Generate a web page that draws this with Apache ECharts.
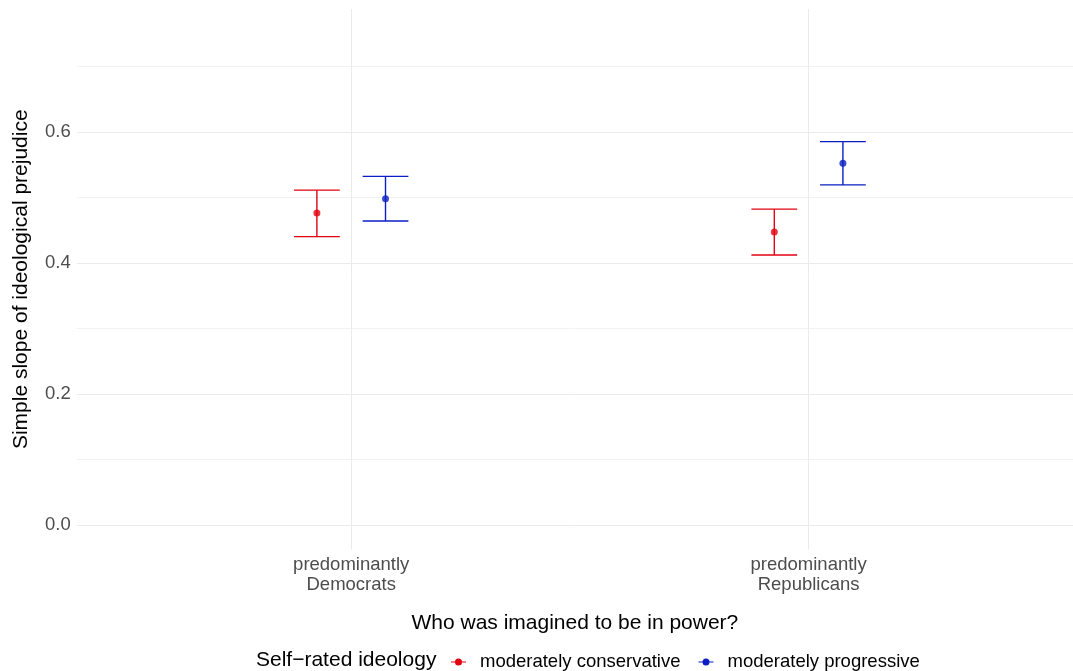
<!DOCTYPE html>
<html>
<head>
<meta charset="utf-8">
<script src="https://cdn.jsdelivr.net/npm/echarts@6/dist/echarts.min.js"></script>
<style>
  html, body { margin: 0; padding: 0; background: #ffffff; }
  #chart { width: 1073px; height: 671px; }
</style>
</head>
<body>
<div id="chart"></div>
<script>
// Simple slopes of ideological prejudice with 95% intervals
const categories = ['predominantly\nDemocrats', 'predominantly\nRepublicans'];
const groups = ['moderately conservative', 'moderately progressive'];

const conservativeEstimate = [0.476, 0.447];
const conservativeLower    = [0.440, 0.412];
const conservativeUpper    = [0.511, 0.482];

const progressiveEstimate  = [0.498, 0.552];
const progressiveLower     = [0.464, 0.519];
const progressiveUpper     = [0.532, 0.585];

const yTickLabels = [0, 0.2, 0.4, 0.6];
const yGridValues = [0, 0.1, 0.2, 0.3, 0.4, 0.5, 0.6, 0.7];

const FONT = "'Liberation Sans', Arial, Helvetica, sans-serif";
const RED = '#e3000f';
const BLUE = '#0a1ec4';
const DODGE = 0.075;      // horizontal offset of each group from its category
const CAP_HALF = 0.05;    // half width of the error-bar caps (x units)

// category i sits at x = i + 1 on a continuous axis starting at 0.4;
// the panel is cut off at the right edge of the canvas
const catX = categories.map((_, i) => i + 1);

function pointData(est, shift) {
  return est.map((v, i) => [catX[i] + shift, v]);
}
function rangeData(lo, hi, shift) {
  return lo.map((v, i) => [catX[i] + shift, v, hi[i]]);
}

function renderErrorBar(color) {
  return function (params, api) {
    const x = api.value(0);
    const lo = api.value(1);
    const hi = api.value(2);
    const pTop = api.coord([x, hi]);
    const pBot = api.coord([x, lo]);
    const left = api.coord([x - CAP_HALF, hi])[0];
    const right = api.coord([x + CAP_HALF, hi])[0];
    const style = { stroke: color, lineWidth: 1.4, fill: null };
    return {
      type: 'group',
      children: [
        { type: 'line', shape: { x1: pTop[0], y1: pTop[1], x2: pBot[0], y2: pBot[1] }, style },
        { type: 'line', shape: { x1: left, y1: pTop[1], x2: right, y2: pTop[1] }, style },
        { type: 'line', shape: { x1: left, y1: pBot[1], x2: right, y2: pBot[1] }, style }
      ]
    };
  };
}

// legend key: short horizontal line with a dot in the middle
const KEY_ICON = 'path://M0,3.4H4.6V4.6H0Z M10.4,3.4H15V4.6H10.4Z M11,4A3.5,3.5 0 1 1 4,4A3.5,3.5 0 1 1 11,4Z';

const chart = echarts.init(document.getElementById('chart'), null, { renderer: 'canvas' });

chart.setOption({
  animation: false,
  backgroundColor: '#ffffff',
  textStyle: { fontFamily: FONT },
  grid: { left: 76.75, right: 0, top: 9, bottom: 121.5, containLabel: false },
  title: {
    text: 'Self\u2212rated ideology',
    left: 256,
    top: 650,
    padding: 0,
    textStyle: { fontFamily: FONT, fontSize: 21, fontWeight: 'normal', color: '#000000' }
  },
  legend: {
    left: 451,
    top: 651,
    padding: 0,
    itemWidth: 15,
    itemHeight: 7,
    itemGap: 18,
    selectedMode: false,
    textStyle: { fontFamily: FONT, fontSize: 18.5, color: '#000000', padding: [0, 0, 0, 9], lineHeight: 22 },
    data: [
      { name: groups[0], icon: KEY_ICON, itemStyle: { color: RED } },
      { name: groups[1], icon: KEY_ICON, itemStyle: { color: BLUE } }
    ]
  },
  xAxis: {
    type: 'value',
    min: 0.4,
    max: 2.578,
    name: 'Who was imagined to be in power?',
    nameLocation: 'middle',
    nameGap: 63,
    nameTextStyle: { fontFamily: FONT, fontSize: 21, color: '#000000' },
    axisLine: { show: false },
    axisTick: { show: false, customValues: catX },
    axisLabel: {
      customValues: catX,
      margin: 5,
      fontFamily: FONT,
      fontSize: 18.5,
      lineHeight: 20,
      color: '#4d4d4d',
      formatter: (v) => categories[Math.round(v) - 1] || ''
    },
    splitLine: { show: true, lineStyle: { color: '#ebebeb', width: 1 } }
  },
  yAxis: {
    type: 'value',
    min: -0.0375,
    max: 0.7875,
    name: 'Simple slope of ideological prejudice',
    nameLocation: 'middle',
    nameGap: 45,
    nameRotate: 90,
    nameTextStyle: { fontFamily: FONT, fontSize: 21, color: '#000000' },
    axisLine: { show: false },
    axisTick: { show: false, customValues: yGridValues },
    axisLabel: {
      customValues: yTickLabels,
      margin: 6,
      fontFamily: FONT,
      fontSize: 18.5,
      color: '#4d4d4d',
      formatter: (v) => v.toFixed(1)
    },
    splitLine: { show: true, lineStyle: { color: ['#ebebeb', '#f2f2f2'], width: 1 } }
  },
  series: [
    {
      type: 'custom',
      name: groups[0],
      silent: true,
      renderItem: renderErrorBar(RED),
      encode: { x: 0, y: [1, 2] },
      data: rangeData(conservativeLower, conservativeUpper, -DODGE),
      z: 2
    },
    {
      type: 'custom',
      name: groups[1],
      silent: true,
      renderItem: renderErrorBar(BLUE),
      encode: { x: 0, y: [1, 2] },
      data: rangeData(progressiveLower, progressiveUpper, DODGE),
      z: 2
    },
    {
      type: 'scatter',
      name: groups[0],
      silent: true,
      symbol: 'circle',
      symbolSize: 7,
      itemStyle: { color: RED },
      data: pointData(conservativeEstimate, -DODGE),
      z: 3
    },
    {
      type: 'scatter',
      name: groups[1],
      silent: true,
      symbol: 'circle',
      symbolSize: 7,
      itemStyle: { color: BLUE },
      data: pointData(progressiveEstimate, DODGE),
      z: 3
    }
  ]
});
</script>
</body>
</html>
